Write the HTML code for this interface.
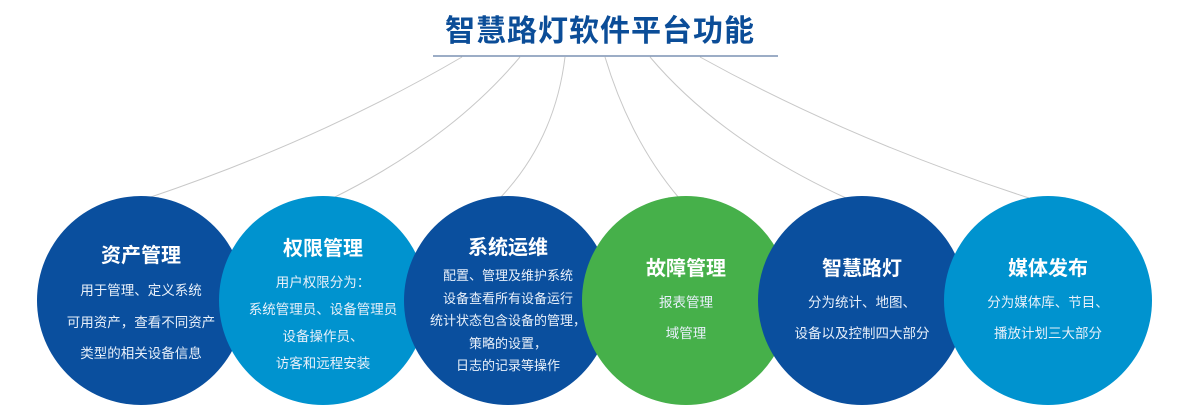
<!DOCTYPE html>
<html><head><meta charset="utf-8"><style>
body{margin:0;width:1200px;height:420px;background:#fff;position:relative;overflow:hidden;font-family:"Liberation Sans","Noto Sans CJK SC",sans-serif}
.t{position:absolute;top:6px;left:0;width:1200px;text-align:center;font-size:30px;font-weight:bold;color:#0b4d98;letter-spacing:1px}
.c{position:absolute;top:196px;width:208px;height:209px;border-radius:50%;color:#fff;text-align:center;box-sizing:border-box}
.c h3{margin:0;font-size:20px;font-weight:bold;position:absolute;top:44px;width:100%}
.c p{margin:0;position:absolute;width:100%;font-size:13.5px;color:#e8f0fa}
.db{background:#0a4f9e}.lb{background:#0093cf}.gr{background:#46b04a}
</style></head><body>
<div class="t">智慧路灯软件平台功能</div>
<svg width="1200" height="420" style="position:absolute;left:0;top:0">
<line x1="433" y1="56" x2="778" y2="56" stroke="#3a5b8c" stroke-width="1"/>
<g fill="none" stroke="#c8c8c8" stroke-width="1">
<path d="M462 57 Q320 140 148 198"/>
<path d="M520 57 Q450 140 333 198"/>
<path d="M565 57 Q555 140 500 198"/>
<path d="M605 57 Q630 140 679 198"/>
<path d="M650 57 Q720 140 846 198"/>
<path d="M700 57 Q850 140 1029 198"/>
</g></svg>
<div class="c db" style="left:37px"><h3 style="top:43px">资产管理</h3><p style="top:79px;line-height:31.5px">用于管理、定义系统<br>可用资产，查看不同资产<br>类型的相关设备信息</p></div>
<div class="c lb" style="left:219px"><h3 style="top:36px">权限管理</h3><p style="top:73px;line-height:27px">用户权限分为：<br>系统管理员、设备管理员<br>设备操作员、<br>访客和远程安装</p></div>
<div class="c db" style="left:404px"><h3 style="top:35px">系统运维</h3><p style="top:69px;line-height:22.5px;font-size:13px">配置、管理及维护系统<br>设备查看所有设备运行<br>统计状态包含设备的管理，<br>策略的设置，<br>日志的记录等操作</p></div>
<div class="c gr" style="left:582px"><h3 style="top:56px">故障管理</h3><p style="top:91px;line-height:31px">报表管理<br>域管理</p></div>
<div class="c db" style="left:758px"><h3 style="top:56px">智慧路灯</h3><p style="top:91px;line-height:31px">分为统计、地图、<br>设备以及控制四大部分</p></div>
<div class="c lb" style="left:944px"><h3 style="top:56px">媒体发布</h3><p style="top:91px;line-height:31px">分为媒体库、节目、<br>播放计划三大部分</p></div>
</body></html>
